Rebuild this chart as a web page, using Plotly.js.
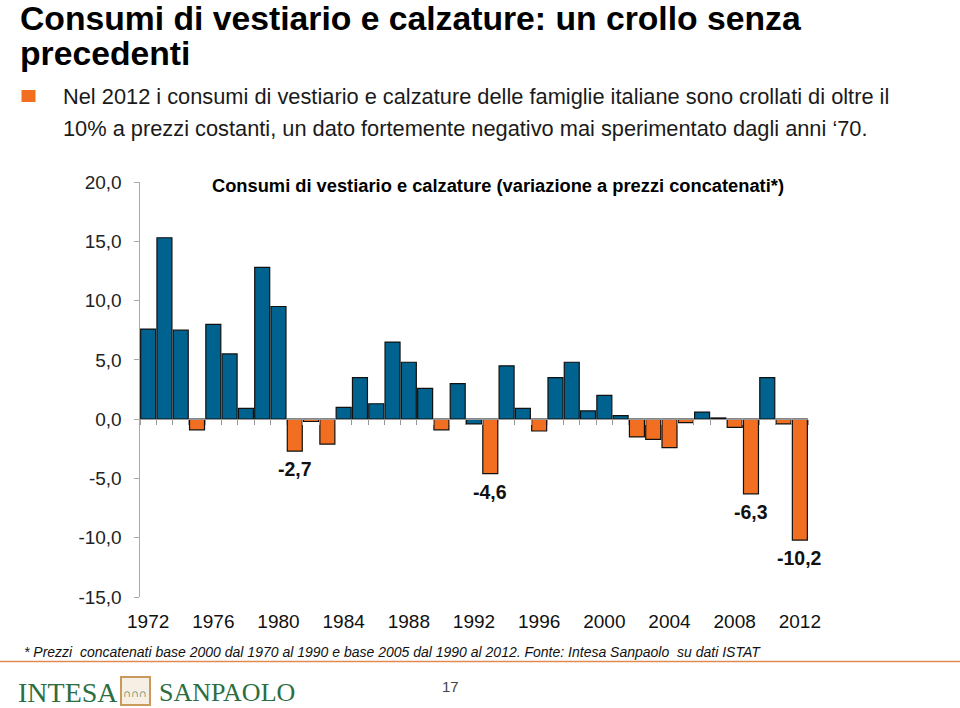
<!DOCTYPE html>
<html>
<head>
<meta charset="utf-8">
<script src="https://cdn.plot.ly/plotly-3.0.1.min.js"></script>
<style>html,body{margin:0;padding:0;background:#fff;}#chart{width:960px;height:708px;}</style>
</head>
<body>
<div id="chart"></div>
<script>
// ---- data ----
const years = [1972,1973,1974,1975,1976,1977,1978,1979,1980,1981,1982,1983,1984,1985,1986,1987,1988,1989,1990,1991,1992,1993,1994,1995,1996,1997,1998,1999,2000,2001,2002,2003,2004,2005,2006,2007,2008,2009,2010,2011,2012];
const values = [7.6,15.3,7.5,-0.9,8.0,5.5,0.9,12.8,9.5,-2.7,-0.2,-2.1,1.0,3.5,1.3,6.5,4.8,2.6,-0.9,3.0,-0.4,-4.6,4.5,0.9,-1.0,3.5,4.8,0.7,2.0,0.3,-1.5,-1.7,-2.4,-0.3,0.6,0.1,-0.7,-6.3,3.5,-0.4,-10.2];
const labelledYears = [1981,1993,2009,2012];
const blueNegativeYears = [1992];
const xTickYears = [1972,1976,1980,1984,1988,1992,1996,2000,2004,2008,2012];
const yTickValues = [-15,-10,-5,0,5,10,15,20];

const pageTitle1 = "Consumi di vestiario e calzature: un crollo senza";
const pageTitle2 = "precedenti";
const bullet1 = "Nel 2012 i consumi di vestiario e calzature delle famiglie italiane sono crollati di oltre il";
const bullet2 = "10% a prezzi costanti, un dato fortemente negativo mai sperimentato dagli anni \u201870.";
const chartTitle = "Consumi di vestiario e calzature (variazione a prezzi concatenati*)";
const footnote = "* Prezzi  concatenati base 2000 dal 1970 al 1990 e base 2005 dal 1990 al 2012. Fonte: Intesa Sanpaolo  su dati ISTAT";

// ---- styling ----
const BLUE = "#00628f";
const ORANGE = "#f26f21";
const W = 960, H = 708;
const M = {l:140, r:152, t:182, b:111};
const pw = W - M.l - M.r, ph = H - M.t - M.b;
const px = x => (x - M.l) / pw;
const py = y => (H - M.b - y) / ph;

const colors = values.map((v,i) => (v < 0 && !blueNegativeYears.includes(years[i])) ? ORANGE : BLUE);
const fmt = v => v.toFixed(1).replace('.', ',');

const trace = {
  type: 'bar', x: years, y: values,
  marker: {color: colors, line: {color: '#111', width: 1.2}},
  hoverinfo: 'x+y', showlegend: false
};

const annotations = [];
years.forEach((yr,i) => {
  if (labelledYears.includes(yr)) {
    annotations.push({x: yr, y: values[i], xref:'x', yref:'y', text: '<b>'+fmt(values[i])+'</b>',
      showarrow:false, yanchor:'top', yshift:-5, font:{family:'Liberation Sans, Arial, sans-serif', size:19.5, color:'#111'}});
  }
});

const txt = (x, y, text, font, xanchor='left', yanchor='middle') => ({
  x: px(x), y: py(y), xref:'paper', yref:'paper', text, showarrow:false, xanchor, yanchor, font
});
const F = 'Liberation Sans, Arial, sans-serif';
const FN = 'Liberation Sans Narrow, Arial Narrow, Liberation Sans, sans-serif';
const FS = 'Liberation Serif, serif';
annotations.push(txt(18, 18, '<b>'+pageTitle1+'</b>', {family:F, size:33.7, color:'#000'}));
annotations.push(txt(18, 53, '<b>'+pageTitle2+'</b>', {family:F, size:33.7, color:'#000'}));
annotations.push(txt(61, 97, bullet1, {family:F, size:21.8, color:'#1a1a1a'}));
annotations.push(txt(61, 128, bullet2, {family:F, size:21.8, color:'#1a1a1a'}));
annotations.push(txt(498, 185, '<b>'+chartTitle+'</b>', {family:FN, size:18.3, color:'#000'}, 'center'));
annotations.push(txt(22, 652, '<i>'+footnote+'</i>', {family:FN, size:14, color:'#111'}));
annotations.push(txt(450, 686, '17', {family:FN, size:15, color:'#444'}, 'center'));
annotations.push(txt(16, 692, 'INTESA', {family:FS, size:28, color:'#2c6e3f'}));
annotations.push(txt(157, 692, 'SANPAOLO', {family:FS, size:26, color:'#2c6e3f'}));
annotations.push(txt(135, 693, '\u2229\u2229\u2229', {family:F, size:11, color:'#2c6e3f'}, 'center'));

const shapes = [
  {type:'rect', xref:'paper', yref:'paper', x0:px(21.5), x1:px(35.5), y0:py(90), y1:py(102), fillcolor:ORANGE, line:{width:0}},
  {type:'line', xref:'paper', yref:'paper', x0:px(0), x1:px(960), y0:py(661.5), y1:py(661.5), line:{color:'#e08a4f', width:1.5}},
  {type:'rect', xref:'paper', yref:'paper', x0:px(121), x1:px(150), y0:py(677), y1:py(705), fillcolor:'#f7efe3', line:{color:'#c99a5b', width:2}}
];

const layout = {
  width: W, height: H,
  margin: {l:M.l, r:M.r, t:M.t, b:M.b, pad:0},
  paper_bgcolor:'#fff', plot_bgcolor:'#fff',
  bargap: 0.08,
  showlegend: false,
  xaxis: {
    range:[1971.5, 2012.5], tickmode:'array', tickvals: xTickYears, ticktext: xTickYears.map(String),
    ticks:'', showline:false, showgrid:false, zeroline:false,
    tickfont:{family:F, size:19, color:'#111'}, ticklabelstandoff: 11
  },
  xaxis2: {
    overlaying:'x', anchor:'free', position: 15/35, range:[1971.5, 2012.5],
    tickmode:'linear', tick0:1971.5, dtick:1, ticks:'outside', ticklen:5, tickcolor:'#999', tickwidth:1,
    showline:true, linecolor:'#999', linewidth:1, showticklabels:false, showgrid:false, zeroline:false
  },
  yaxis: {
    range:[-15, 20], tickmode:'array', tickvals: yTickValues, ticktext: yTickValues.map(fmt),
    ticks:'outside', ticklen:5, tickcolor:'#aaa', showline:true, linecolor:'#aaa', linewidth:1.5,
    showgrid:false, zeroline:false, tickfont:{family:F, size:19, color:'#222'}, ticklabelstandoff: 8
  },
  annotations, shapes
};

const dummy = {type:'scatter', x:[1972], y:[0], xaxis:'x2', mode:'markers', marker:{opacity:0}, hoverinfo:'skip', showlegend:false};

Plotly.newPlot('chart', [trace, dummy], layout, {displayModeBar:false, staticPlot:true});
</script>
</body>
</html>
